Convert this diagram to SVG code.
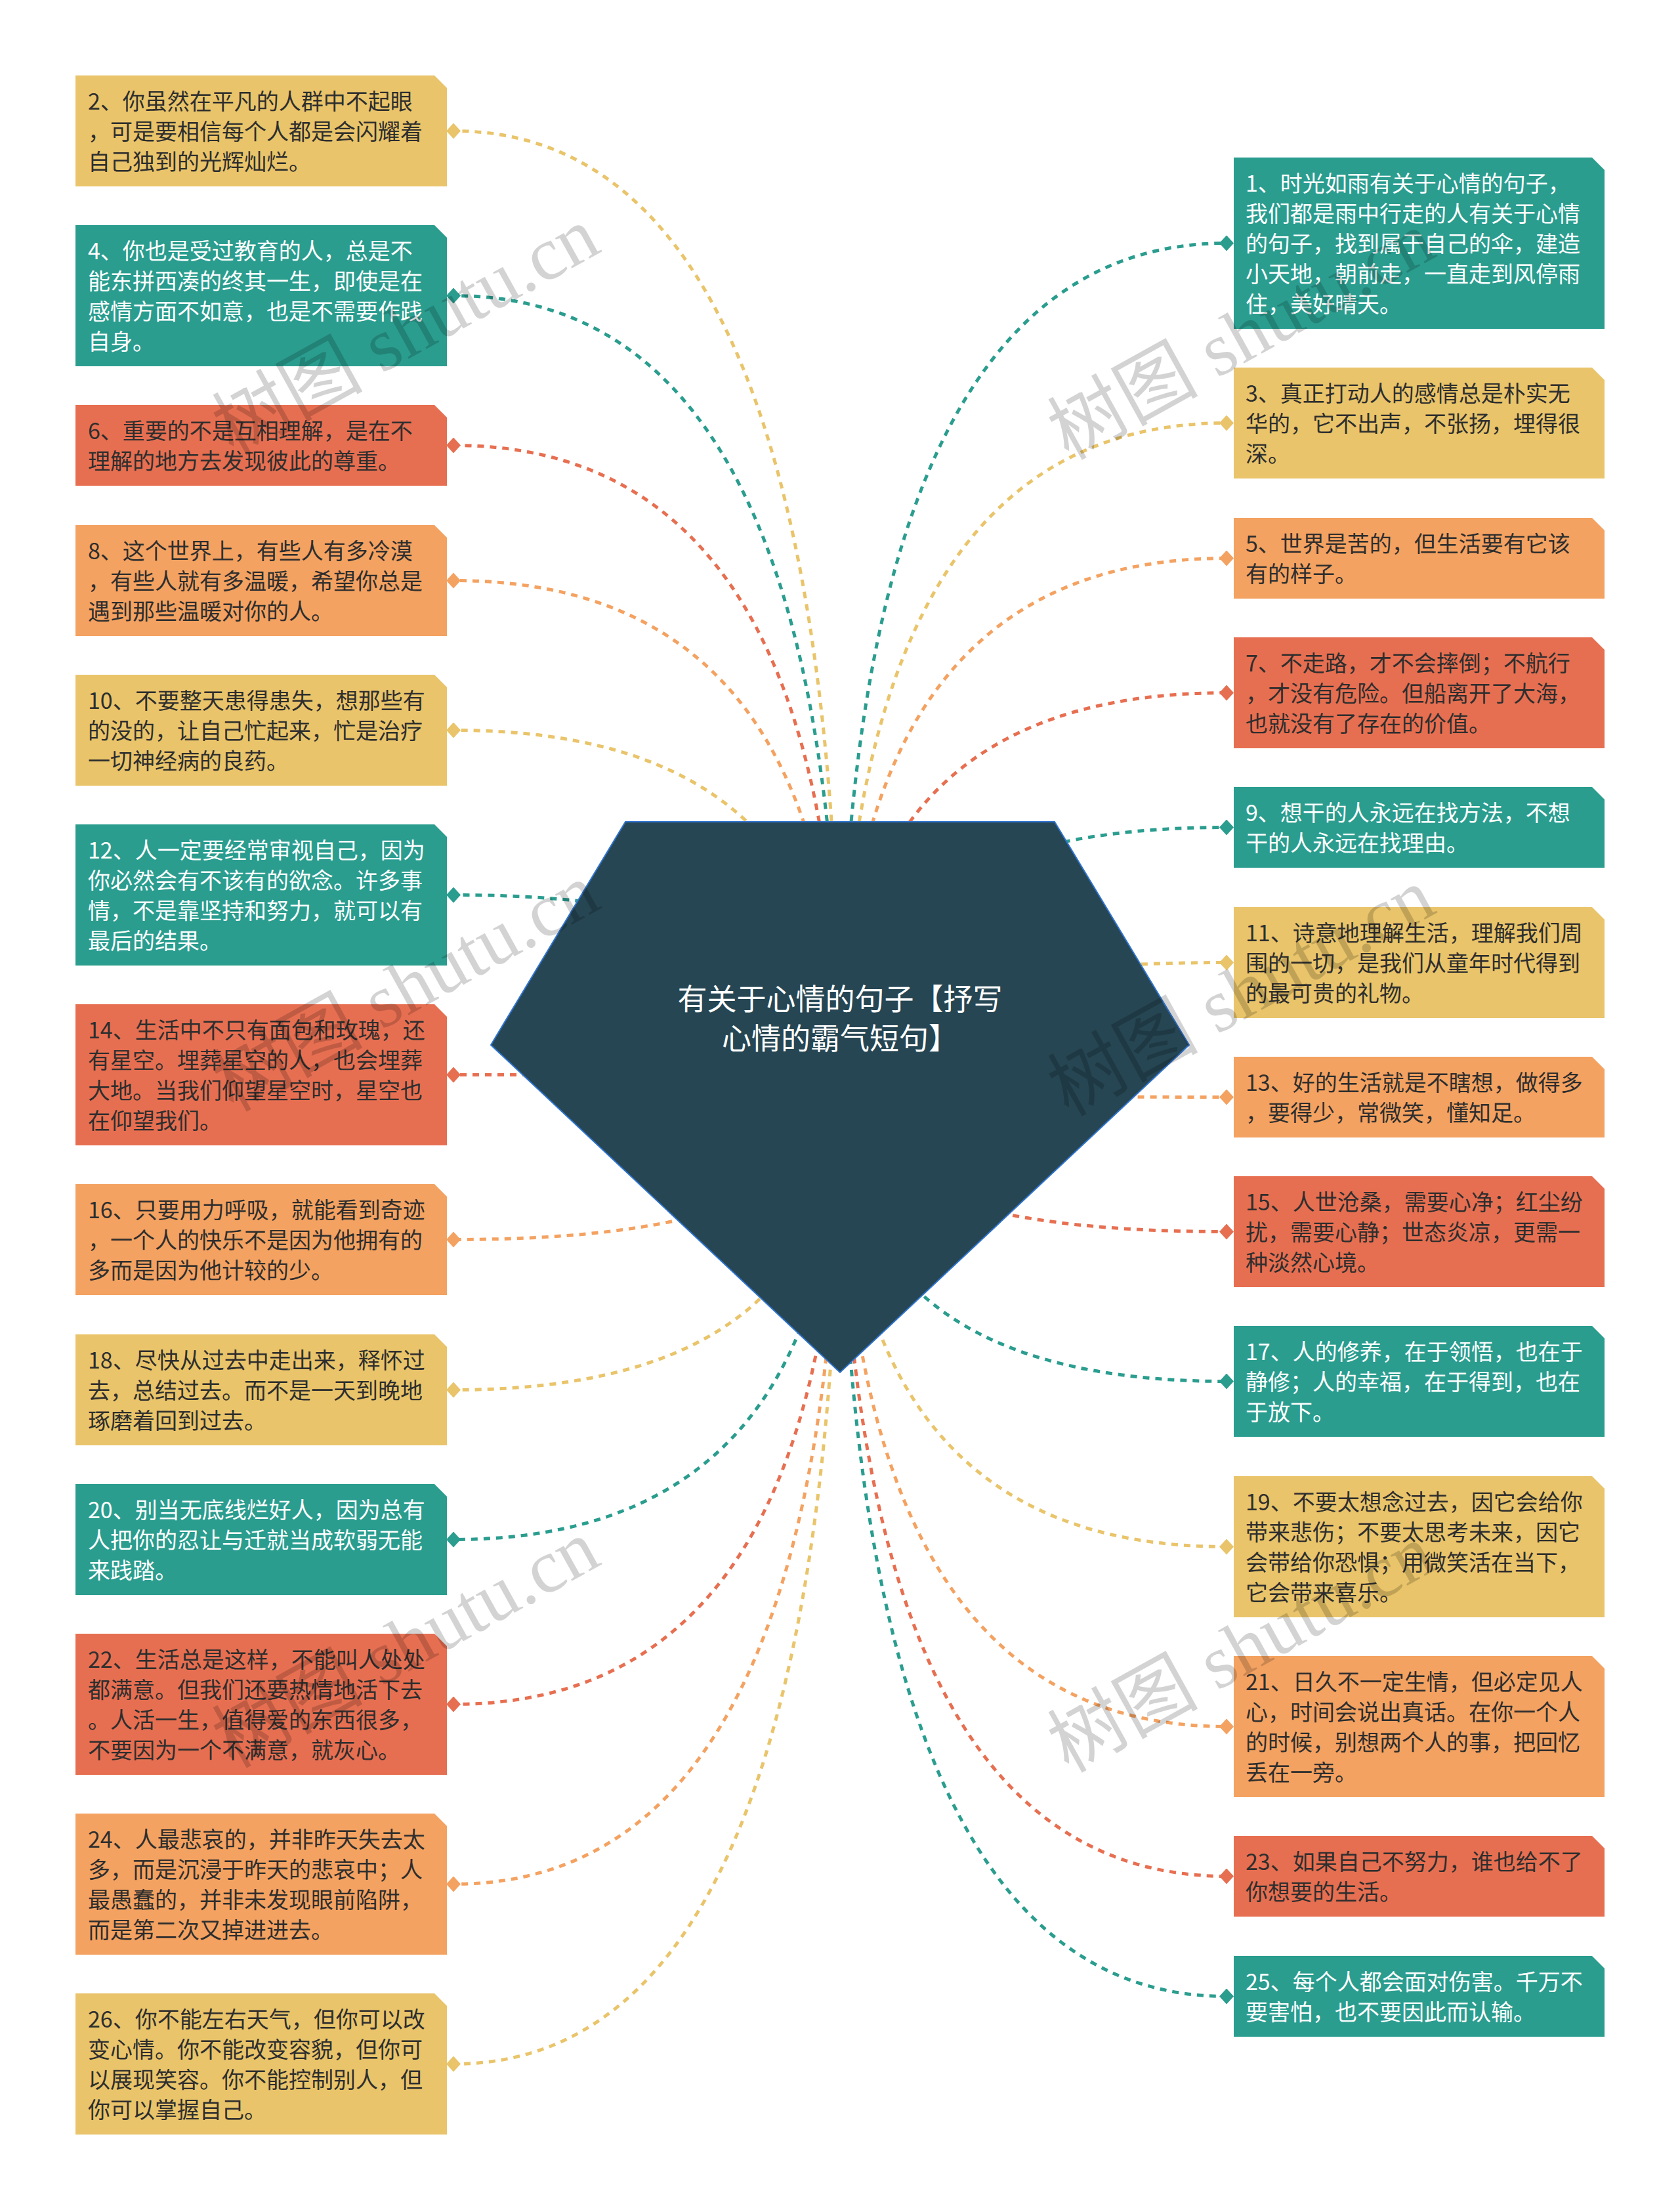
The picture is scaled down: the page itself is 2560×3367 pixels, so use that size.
<svg xmlns="http://www.w3.org/2000/svg" width="2560" height="3367" viewBox="0 0 2560 3367">
<defs>
<style>
.y{fill:#E9C46A}.t{fill:#2A9D8F}.r{fill:#E76F51}.o{fill:#F4A261}
.tx{font-family:"Noto Sans CJK SC","Microsoft YaHei",sans-serif;font-size:34px;fill:#2e2e2e}
.tw{font-family:"Noto Sans CJK SC","Microsoft YaHei",sans-serif;font-size:34px;fill:#ffffff}
.c{fill:none;stroke-width:5;stroke-dasharray:10 9}
.cy{stroke:#E9C46A;marker-end:url(#my)}.ct{stroke:#2A9D8F;marker-end:url(#mt)}.cr{stroke:#E76F51;marker-end:url(#mr)}.co{stroke:#F4A261;marker-end:url(#mo)}
.wm{font-family:"Liberation Serif","Noto Sans CJK SC",serif;font-size:115px;fill:#000;opacity:.17}
</style>
<marker id="my" viewBox="-12 -12 24 24" markerWidth="24" markerHeight="24" markerUnits="userSpaceOnUse" orient="auto"><path d="M-11,0L0,-12L11,0L0,12Z" fill="#E9C46A"/></marker>
<marker id="mt" viewBox="-12 -12 24 24" markerWidth="24" markerHeight="24" markerUnits="userSpaceOnUse" orient="auto"><path d="M-11,0L0,-12L11,0L0,12Z" fill="#2A9D8F"/></marker>
<marker id="mr" viewBox="-12 -12 24 24" markerWidth="24" markerHeight="24" markerUnits="userSpaceOnUse" orient="auto"><path d="M-11,0L0,-12L11,0L0,12Z" fill="#E76F51"/></marker>
<marker id="mo" viewBox="-12 -12 24 24" markerWidth="24" markerHeight="24" markerUnits="userSpaceOnUse" orient="auto"><path d="M-11,0L0,-12L11,0L0,12Z" fill="#F4A261"/></marker>
</defs>
<rect width="2560" height="3367" fill="#ffffff"/>
<g id="connectors">
<path class="c cy" d="M1280,1650Q1280,199.5 691,199.5"/>
<path class="c ct" d="M1280,1650Q1280,450.5 691,450.5"/>
<path class="c cr" d="M1280,1650Q1280,678.5 691,678.5"/>
<path class="c co" d="M1280,1650Q1280,884.5 691,884.5"/>
<path class="c cy" d="M1280,1650Q1280,1112.5 691,1112.5"/>
<path class="c ct" d="M1280,1650Q1280,1363.5 691,1363.5"/>
<path class="c cr" d="M1280,1650Q1280,1637.5 691,1637.5"/>
<path class="c co" d="M1280,1650Q1280,1888.5 691,1888.5"/>
<path class="c cy" d="M1280,1650Q1280,2117.5 691,2117.5"/>
<path class="c ct" d="M1280,1650Q1280,2345.5 691,2345.5"/>
<path class="c cr" d="M1280,1650Q1280,2596.5 691,2596.5"/>
<path class="c co" d="M1280,1650Q1280,2870.5 691,2870.5"/>
<path class="c cy" d="M1280,1650Q1280,3144.5 691,3144.5"/>
<path class="c ct" d="M1280,1650Q1280,370.5 1869,370.5"/>
<path class="c cy" d="M1280,1650Q1280,644.5 1869,644.5"/>
<path class="c co" d="M1280,1650Q1280,850.5 1869,850.5"/>
<path class="c cr" d="M1280,1650Q1280,1055.5 1869,1055.5"/>
<path class="c ct" d="M1280,1650Q1280,1260.5 1869,1260.5"/>
<path class="c cy" d="M1280,1650Q1280,1466.5 1869,1466.5"/>
<path class="c co" d="M1280,1650Q1280,1671.5 1869,1671.5"/>
<path class="c cr" d="M1280,1650Q1280,1876.5 1869,1876.5"/>
<path class="c ct" d="M1280,1650Q1280,2104.5 1869,2104.5"/>
<path class="c cy" d="M1280,1650Q1280,2356.5 1869,2356.5"/>
<path class="c co" d="M1280,1650Q1280,2630.5 1869,2630.5"/>
<path class="c cr" d="M1280,1650Q1280,2858.5 1869,2858.5"/>
<path class="c ct" d="M1280,1650Q1280,3041.5 1869,3041.5"/>
</g>
<g id="root">
<polygon points="953,1252 1607,1252 1812,1592 1280,2091 748,1592" fill="#264653" stroke="#2F74D0" stroke-width="2"/>
<text x="1280" y="1539" text-anchor="middle" font-family="'Noto Sans CJK SC','Microsoft YaHei',sans-serif" font-size="45" fill="#ffffff">有关于心情的句子【抒写</text>
<text x="1280" y="1599" text-anchor="middle" font-family="'Noto Sans CJK SC','Microsoft YaHei',sans-serif" font-size="45" fill="#ffffff">心情的霸气短句】</text>
</g>
<g id="n2"><path class="y" d="M115,115h547l19,19v150h-566z"/><text class="tx" x="134"><tspan x="134" y="166.5">2、你虽然在平凡的人群中不起眼</tspan><tspan x="134" y="212.5">，可是要相信每个人都是会闪耀着</tspan><tspan x="134" y="258.5">自己独到的光辉灿烂。</tspan></text></g>
<g id="n4"><path class="t" d="M115,343h547l19,19v196h-566z"/><text class="tw"><tspan x="134" y="394.5">4、你也是受过教育的人，总是不</tspan><tspan x="134" y="440.5">能东拼西凑的终其一生，即使是在</tspan><tspan x="134" y="486.5">感情方面不如意，也是不需要作践</tspan><tspan x="134" y="532.5">自身。</tspan></text></g>
<g id="n6"><path class="r" d="M115,617h547l19,19v104h-566z"/><text class="tx"><tspan x="134" y="668.5">6、重要的不是互相理解，是在不</tspan><tspan x="134" y="714.5">理解的地方去发现彼此的尊重。</tspan></text></g>
<g id="n8"><path class="o" d="M115,800h547l19,19v150h-566z"/><text class="tx"><tspan x="134" y="851.5">8、这个世界上，有些人有多冷漠</tspan><tspan x="134" y="897.5">，有些人就有多温暖，希望你总是</tspan><tspan x="134" y="943.5">遇到那些温暖对你的人。</tspan></text></g>
<g id="n10"><path class="y" d="M115,1028h547l19,19v150h-566z"/><text class="tx"><tspan x="134" y="1079.5">10、不要整天患得患失，想那些有</tspan><tspan x="134" y="1125.5">的没的，让自己忙起来，忙是治疗</tspan><tspan x="134" y="1171.5">一切神经病的良药。</tspan></text></g>
<g id="n12"><path class="t" d="M115,1256h547l19,19v196h-566z"/><text class="tw"><tspan x="134" y="1307.5">12、人一定要经常审视自己，因为</tspan><tspan x="134" y="1353.5">你必然会有不该有的欲念。许多事</tspan><tspan x="134" y="1399.5">情，不是靠坚持和努力，就可以有</tspan><tspan x="134" y="1445.5">最后的结果。</tspan></text></g>
<g id="n14"><path class="r" d="M115,1530h547l19,19v196h-566z"/><text class="tx"><tspan x="134" y="1581.5">14、生活中不只有面包和玫瑰，还</tspan><tspan x="134" y="1627.5">有星空。埋葬星空的人，也会埋葬</tspan><tspan x="134" y="1673.5">大地。当我们仰望星空时，星空也</tspan><tspan x="134" y="1719.5">在仰望我们。</tspan></text></g>
<g id="n16"><path class="o" d="M115,1804h547l19,19v150h-566z"/><text class="tx"><tspan x="134" y="1855.5">16、只要用力呼吸，就能看到奇迹</tspan><tspan x="134" y="1901.5">，一个人的快乐不是因为他拥有的</tspan><tspan x="134" y="1947.5">多而是因为他计较的少。</tspan></text></g>
<g id="n18"><path class="y" d="M115,2033h547l19,19v150h-566z"/><text class="tx"><tspan x="134" y="2084.5">18、尽快从过去中走出来，释怀过</tspan><tspan x="134" y="2130.5">去，总结过去。而不是一天到晚地</tspan><tspan x="134" y="2176.5">琢磨着回到过去。</tspan></text></g>
<g id="n20"><path class="t" d="M115,2261h547l19,19v150h-566z"/><text class="tw"><tspan x="134" y="2312.5">20、别当无底线烂好人，因为总有</tspan><tspan x="134" y="2358.5">人把你的忍让与迁就当成软弱无能</tspan><tspan x="134" y="2404.5">来践踏。</tspan></text></g>
<g id="n22"><path class="r" d="M115,2489h547l19,19v196h-566z"/><text class="tx"><tspan x="134" y="2540.5">22、生活总是这样，不能叫人处处</tspan><tspan x="134" y="2586.5">都满意。但我们还要热情地活下去</tspan><tspan x="134" y="2632.5">。人活一生，值得爱的东西很多，</tspan><tspan x="134" y="2678.5">不要因为一个不满意，就灰心。</tspan></text></g>
<g id="n24"><path class="o" d="M115,2763h547l19,19v196h-566z"/><text class="tx"><tspan x="134" y="2814.5">24、人最悲哀的，并非昨天失去太</tspan><tspan x="134" y="2860.5">多，而是沉浸于昨天的悲哀中；人</tspan><tspan x="134" y="2906.5">最愚蠢的，并非未发现眼前陷阱，</tspan><tspan x="134" y="2952.5">而是第二次又掉进进去。</tspan></text></g>
<g id="n26"><path class="y" d="M115,3037h547l19,19v196h-566z"/><text class="tx"><tspan x="134" y="3088.5">26、你不能左右天气，但你可以改</tspan><tspan x="134" y="3134.5">变心情。你不能改变容貌，但你可</tspan><tspan x="134" y="3180.5">以展现笑容。你不能控制别人，但</tspan><tspan x="134" y="3226.5">你可以掌握自己。</tspan></text></g>
<g id="n1"><path class="t" d="M1880,240h546l19,19v242h-565z"/><text class="tw"><tspan x="1898" y="291.5">1、时光如雨有关于心情的句子，</tspan><tspan x="1898" y="337.5">我们都是雨中行走的人有关于心情</tspan><tspan x="1898" y="383.5">的句子，找到属于自己的伞，建造</tspan><tspan x="1898" y="429.5">小天地，朝前走，一直走到风停雨</tspan><tspan x="1898" y="475.5">住，美好晴天。</tspan></text></g>
<g id="n3"><path class="y" d="M1880,560h546l19,19v150h-565z"/><text class="tx"><tspan x="1898" y="611.5">3、真正打动人的感情总是朴实无</tspan><tspan x="1898" y="657.5">华的，它不出声，不张扬，埋得很</tspan><tspan x="1898" y="703.5">深。</tspan></text></g>
<g id="n5"><path class="o" d="M1880,789h546l19,19v104h-565z"/><text class="tx"><tspan x="1898" y="840.5">5、世界是苦的，但生活要有它该</tspan><tspan x="1898" y="886.5">有的样子。</tspan></text></g>
<g id="n7"><path class="r" d="M1880,971h546l19,19v150h-565z"/><text class="tx"><tspan x="1898" y="1022.5">7、不走路，才不会摔倒；不航行</tspan><tspan x="1898" y="1068.5">，才没有危险。但船离开了大海，</tspan><tspan x="1898" y="1114.5">也就没有了存在的价值。</tspan></text></g>
<g id="n9"><path class="t" d="M1880,1199h546l19,19v104h-565z"/><text class="tw"><tspan x="1898" y="1250.5">9、想干的人永远在找方法，不想</tspan><tspan x="1898" y="1296.5">干的人永远在找理由。</tspan></text></g>
<g id="n11"><path class="y" d="M1880,1382h546l19,19v150h-565z"/><text class="tx"><tspan x="1898" y="1433.5">11、诗意地理解生活，理解我们周</tspan><tspan x="1898" y="1479.5">围的一切，是我们从童年时代得到</tspan><tspan x="1898" y="1525.5">的最可贵的礼物。</tspan></text></g>
<g id="n13"><path class="o" d="M1880,1610h546l19,19v104h-565z"/><text class="tx"><tspan x="1898" y="1661.5">13、好的生活就是不瞎想，做得多</tspan><tspan x="1898" y="1707.5">，要得少，常微笑，懂知足。</tspan></text></g>
<g id="n15"><path class="r" d="M1880,1792h546l19,19v150h-565z"/><text class="tx"><tspan x="1898" y="1843.5">15、人世沧桑，需要心净；红尘纷</tspan><tspan x="1898" y="1889.5">扰，需要心静；世态炎凉，更需一</tspan><tspan x="1898" y="1935.5">种淡然心境。</tspan></text></g>
<g id="n17"><path class="t" d="M1880,2020h546l19,19v150h-565z"/><text class="tw"><tspan x="1898" y="2071.5">17、人的修养，在于领悟，也在于</tspan><tspan x="1898" y="2117.5">静修；人的幸福，在于得到，也在</tspan><tspan x="1898" y="2163.5">于放下。</tspan></text></g>
<g id="n19"><path class="y" d="M1880,2249h546l19,19v196h-565z"/><text class="tx"><tspan x="1898" y="2300.5">19、不要太想念过去，因它会给你</tspan><tspan x="1898" y="2346.5">带来悲伤；不要太思考未来，因它</tspan><tspan x="1898" y="2392.5">会带给你恐惧；用微笑活在当下，</tspan><tspan x="1898" y="2438.5">它会带来喜乐。</tspan></text></g>
<g id="n21"><path class="o" d="M1880,2523h546l19,19v196h-565z"/><text class="tx"><tspan x="1898" y="2574.5">21、日久不一定生情，但必定见人</tspan><tspan x="1898" y="2620.5">心，时间会说出真话。在你一个人</tspan><tspan x="1898" y="2666.5">的时候，别想两个人的事，把回忆</tspan><tspan x="1898" y="2712.5">丢在一旁。</tspan></text></g>
<g id="n23"><path class="r" d="M1880,2797h546l19,19v104h-565z"/><text class="tx"><tspan x="1898" y="2848.5">23、如果自己不努力，谁也给不了</tspan><tspan x="1898" y="2894.5">你想要的生活。</tspan></text></g>
<g id="n25"><path class="t" d="M1880,2980h546l19,19v104h-565z"/><text class="tw"><tspan x="1898" y="3031.5">25、每个人都会面对伤害。千万不</tspan><tspan x="1898" y="3077.5">要害怕，也不要因此而认输。</tspan></text></g>
<g id="watermarks">
<text class="wm" transform="translate(355,695) rotate(-29)">树图 shutu.cn</text>
<text class="wm" transform="translate(1628,702) rotate(-29)">树图 shutu.cn</text>
<text class="wm" transform="translate(355,1695) rotate(-29)">树图 shutu.cn</text>
<text class="wm" transform="translate(1628,1702) rotate(-29)">树图 shutu.cn</text>
<text class="wm" transform="translate(355,2695) rotate(-29)">树图 shutu.cn</text>
<text class="wm" transform="translate(1628,2702) rotate(-29)">树图 shutu.cn</text>
</g>
</svg>
